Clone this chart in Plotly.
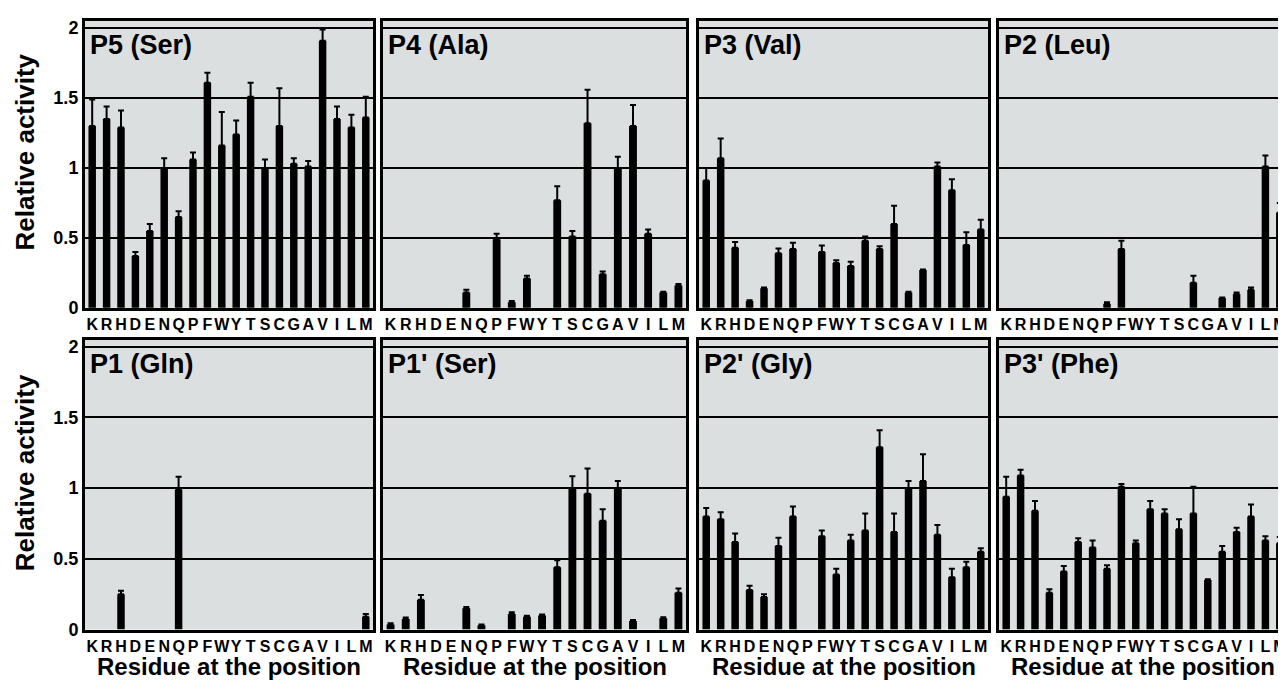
import plotly.graph_objects as go

residues = ["K", "R", "H", "D", "E", "N", "Q", "P", "F", "W",
            "Y", "T", "S", "C", "G", "A", "V", "I", "L", "M"]

panel_titles = ["P5 (Ser)", "P4 (Ala)", "P3 (Val)", "P2 (Leu)",
                "P1 (Gln)", "P1' (Ser)", "P2' (Gly)", "P3' (Phe)"]

p5_val = [1.30, 1.35, 1.29, 0.37, 0.55, 1.00, 0.65, 1.06, 1.61, 1.16,
          1.24, 1.51, 1.00, 1.30, 1.03, 1.01, 1.91, 1.35, 1.29, 1.36]
p5_err = [0.19, 0.09, 0.12, 0.03, 0.05, 0.07, 0.04, 0.05, 0.07, 0.24,
          0.10, 0.10, 0.06, 0.27, 0.04, 0.04, 0.08, 0.09, 0.09, 0.15]

p4_val = [0, 0, 0, 0, 0, 0.11, 0, 0.49, 0.04, 0.21,
          0, 0.77, 0.51, 1.32, 0.24, 1.00, 1.30, 0.53, 0.11, 0.16]
p4_err = [0, 0, 0, 0, 0, 0.02, 0, 0.04, 0.01, 0.02,
          0, 0.10, 0.04, 0.24, 0.02, 0.08, 0.15, 0.03, 0.005, 0.01]

p3_val = [0.91, 1.07, 0.43, 0.05, 0.14, 0.39, 0.42, 0, 0.40, 0.32,
          0.30, 0.48, 0.42, 0.60, 0.11, 0.27, 1.01, 0.84, 0.45, 0.56]
p3_err = [0.09, 0.14, 0.04, 0.005, 0.005, 0.035, 0.045, 0, 0.045, 0.02,
          0.03, 0.03, 0.02, 0.13, 0.005, 0.005, 0.03, 0.08, 0.09, 0.07]

p2_val = [0, 0, 0, 0, 0, 0, 0, 0.03, 0.42, 0,
          0, 0, 0, 0.18, 0, 0.07, 0.10, 0.13, 1.01, 0.68]
p2_err = [0, 0, 0, 0, 0, 0, 0, 0.01, 0.06, 0,
          0, 0, 0, 0.05, 0, 0.005, 0.01, 0.015, 0.08, 0.07]

p1_val = [0, 0, 0.25, 0, 0, 0, 0.99, 0, 0, 0,
          0, 0, 0, 0, 0, 0, 0, 0, 0, 0.09]
p1_err = [0, 0, 0.025, 0, 0, 0, 0.09, 0, 0, 0,
          0, 0, 0, 0, 0, 0, 0, 0, 0, 0.02]

p1p_val = [0.035, 0.075, 0.21, 0, 0, 0.15, 0.03, 0, 0.11, 0.09,
           0.10, 0.44, 1.00, 0.96, 0.77, 1.00, 0.06, 0, 0.08, 0.26]
p1p_err = [0.01, 0.01, 0.035, 0, 0, 0.01, 0.005, 0, 0.012, 0.007,
           0.007, 0.05, 0.085, 0.18, 0.08, 0.05, 0.007, 0, 0.007, 0.03]

p2p_val = [0.80, 0.78, 0.62, 0.28, 0.23, 0.59, 0.80, 0, 0.66, 0.39,
           0.63, 0.70, 1.29, 0.69, 1.00, 1.05, 0.67, 0.37, 0.44, 0.55]
p2p_err = [0.06, 0.05, 0.06, 0.03, 0.02, 0.06, 0.07, 0, 0.04, 0.04,
           0.04, 0.12, 0.12, 0.13, 0.05, 0.19, 0.07, 0.06, 0.04, 0.025]

p3p_val = [0.94, 1.09, 0.84, 0.26, 0.41, 0.62, 0.58, 0.43, 1.01, 0.61,
           0.85, 0.82, 0.71, 0.82, 0.35, 0.55, 0.69, 0.80, 0.63, 0.61]
p3p_err = [0.14, 0.04, 0.07, 0.025, 0.04, 0.025, 0.05, 0.025, 0.02, 0.02,
           0.06, 0.03, 0.07, 0.19, 0.005, 0.04, 0.03, 0.085, 0.03, 0.045]

y_ticks = [0, 0.5, 1, 1.5, 2]
y_tick_text = ["0", "0.5", "1", "1.5", "2"]

panels = [(p5_val, p5_err), (p4_val, p4_err), (p3_val, p3_err), (p2_val, p2_err),
          (p1_val, p1_err), (p1p_val, p1p_err), (p2p_val, p2p_err), (p3p_val, p3p_err)]

# page offset / vertical scale observed in the rendered screenshot
OFF = 8
VS = 0.985
W, H = 1286 - OFF, 680


def fx(px):
    return px - OFF


def fy(py):
    return py / VS - OFF


col_px = [(85, 373), (383, 686), (699, 988), (999, 1287)]   # target window pixels
row_px = [(18, 306), (338, 629)]

FONT = "Liberation Sans, Arial, sans-serif"
BG = "#dcdfe0"

fig = go.Figure()
layout = dict(width=W, height=H, margin=dict(l=0, r=0, t=0, b=0),
              paper_bgcolor="white", plot_bgcolor=BG, showlegend=False,
              bargap=0.48, font=dict(family=FONT, color="black"))
annotations = []

for i, (vals, errs) in enumerate(panels):
    r, c = divmod(i, 4)
    n = i + 1
    xa = "x" if n == 1 else f"x{n}"
    ya = "y" if n == 1 else f"y{n}"
    yv = [v if v > 0 else None for v in vals]
    fig.add_trace(go.Bar(
        x=residues, y=yv, xaxis=xa, yaxis=ya, marker=dict(color="black", line=dict(width=0)),
        error_y=dict(type="data", symmetric=False, array=errs,
                     arrayminus=[0] * len(errs), color="black", thickness=2, width=3),
    ))
    x0, x1 = fx(col_px[c][0]), fx(col_px[c][1])
    full_x1 = x1
    yt, yb = fy(row_px[r][0]), fy(row_px[r][1])
    xr = [-0.5, 19.5]
    if x1 > W:
        step = (x1 - x0) / 20.0
        xr = [-0.5, -0.5 + (W - x0) / step]
        x1 = W
    layout[f"xaxis{n}"] = dict(
        domain=[x0 / W, x1 / W], anchor=ya, range=xr, type="category",
        tickmode="array", tickvals=residues, ticktext=residues,
        showline=True, linecolor="black", linewidth=3, mirror=True,
        showgrid=False, ticks="", zeroline=False,
        tickfont=dict(family=FONT, size=16, weight="bold"),
        tickangle=0, fixedrange=True)
    layout[f"yaxis{n}"] = dict(
        domain=[(H - yb) / H, (H - yt) / H], anchor=xa, range=[0, 2.05],
        showline=True, linecolor="black", linewidth=3, mirror=(c != 3),
        showgrid=True, gridcolor="black", gridwidth=1.6,
        tickvals=y_ticks, ticktext=y_tick_text, showticklabels=(c == 0),
        ticks="", zeroline=False, ticklabelstandoff=0,
        tickfont=dict(family=FONT, size=18, weight="bold"), fixedrange=True)
    annotations.append(dict(
        text=panel_titles[i], xref=f"{xa} domain", yref=f"{ya} domain",
        x=0.01, y=0.915, xanchor="left", yanchor="middle", showarrow=False,
        font=dict(family=FONT, size=27, weight="bold", color="black")))
    if r == 1:
        annotations.append(dict(
            text="Residue at the position", xref="paper", yref="paper",
            x=((x0 + full_x1) / 2) / W, y=(H - fy(666)) / H,
            xanchor="center", yanchor="middle", showarrow=False,
            font=dict(family=FONT, size=24, weight="bold", color="black")))

for yc in (150, 472):
    annotations.append(dict(
        text="Relative activity", xref="paper", yref="paper",
        x=fx(25) / W, y=(H - fy(yc)) / H, xanchor="center", yanchor="middle",
        textangle=-90, showarrow=False,
        font=dict(family=FONT, size=26, weight="bold", color="black")))

layout["annotations"] = annotations
fig.update_layout(**layout)
fig.write_html("out.html")
